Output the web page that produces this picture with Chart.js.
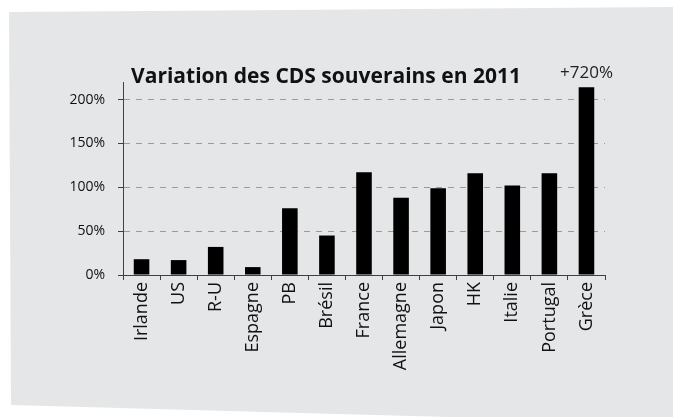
<!DOCTYPE html>
<html lang="fr">
<head>
<meta charset="utf-8">
<title>Variation des CDS souverains en 2011</title>
<script src="https://cdn.jsdelivr.net/npm/chart.js@4.4.1/dist/chart.umd.min.js"></script>
<style>
  html, body { margin: 0; padding: 0; background: #ffffff; }
  #fond {
    position: absolute; left: 0; top: 0; width: 673px; height: 417px;
    background: #e5e6e8;
    clip-path: polygon(9px 12px, 673px 7px, 673px 417px, 450px 417px, 11px 405px);
  }
  #cadre { position: absolute; left: 0; top: 0; width: 673px; height: 417px; }
</style>
</head>
<body>
<div id="fond"></div>
<div id="cadre"><canvas id="cdsChart" width="673" height="417"></canvas></div>
<script>
// Pays (ordre du graphique)
const pays = ['Irlande', 'US', 'R-U', 'Espagne', 'PB', 'Brésil', 'France',
              'Allemagne', 'Japon', 'HK', 'Italie', 'Portugal', 'Grèce'];

// Variation des CDS en 2011 (%), la Grèce est tronquée à l'affichage
const variations = [18, 17, 32, 9, 76, 45, 117, 88, 99, 116, 102, 116, 214];

// Étiquettes au-dessus des barres (seulement la Grèce)
const etiquettes = ['', '', '', '', '', '', '', '', '', '', '', '', '+720%'];

// Graduations de l'axe vertical
const graduations = [0, 50, 100, 150, 200];
const axeMax = 220;

const titre = 'Variation des CDS souverains en 2011';
const police = "'Open Sans', sans-serif";

// Titre dessiné à la main (il chevauche le haut de l'axe)
const titrePlugin = {
    id: 'titre',
    afterDraw(chart) {
        const ctx = chart.ctx;
        ctx.save();
        ctx.font = 'bold 21px ' + police;
        ctx.fillStyle = '#111';
        ctx.textAlign = 'center';
        ctx.textBaseline = 'alphabetic';
        ctx.fillText(titre, 326, 83);
        ctx.restore();
    }
};

// Étiquette "+720%" au-dessus de la barre
const etiquettePlugin = {
    id: 'etiquettes',
    afterDatasetsDraw(chart) {
        const ctx = chart.ctx;
        const meta = chart.getDatasetMeta(0);
        ctx.save();
        ctx.font = '17px ' + police;
        ctx.fillStyle = '#222';
        ctx.textAlign = 'center';
        ctx.textBaseline = 'alphabetic';
        meta.data.forEach((bar, i) => {
            if (etiquettes[i]) ctx.fillText(etiquettes[i], bar.x, bar.y - 9);
        });
        ctx.restore();
    }
};

const ctx = document.getElementById('cdsChart').getContext('2d');
new Chart(ctx, {
    type: 'bar',
    data: {
        labels: pays,
        datasets: [{
            data: variations,
            backgroundColor: '#000000',
            borderWidth: 0,
            barPercentage: 0.42,
            categoryPercentage: 1
        }]
    },
    options: {
        responsive: false,
        animation: false,
        layout: { padding: { top: 82, right: 68, bottom: 0, left: 0 } },
        plugins: {
            legend: { display: false },
            title: { display: false },
            tooltip: { enabled: false }
        },
        scales: {
            x: {
                afterFit: scale => { scale.height = 142; },
                grid: {
                    drawOnChartArea: false,
                    drawTicks: true,
                    tickLength: 5,
                    tickColor: '#404040',
                    offset: true
                },
                border: { color: '#404040', width: 1 },
                ticks: {
                    minRotation: 90,
                    maxRotation: 90,
                    padding: 2,
                    color: '#111',
                    font: { family: police, size: 18 }
                }
            },
            y: {
                min: 0,
                max: axeMax,
                afterFit: scale => { scale.width = 123; },
                afterBuildTicks: scale => {
                    scale.ticks = graduations.map(v => ({ value: v }));
                },
                grid: {
                    color: '#9a9a9a',
                    lineWidth: 1,
                    tickLength: 5,
                    tickColor: '#404040'
                },
                border: { color: '#404040', width: 1, dash: [6, 6] },
                ticks: {
                    padding: 13,
                    color: '#111',
                    font: { family: police, size: 14 },
                    callback: v => v + '%'
                }
            }
        }
    },
    plugins: [titrePlugin, etiquettePlugin]
});
</script>
</body>
</html>
